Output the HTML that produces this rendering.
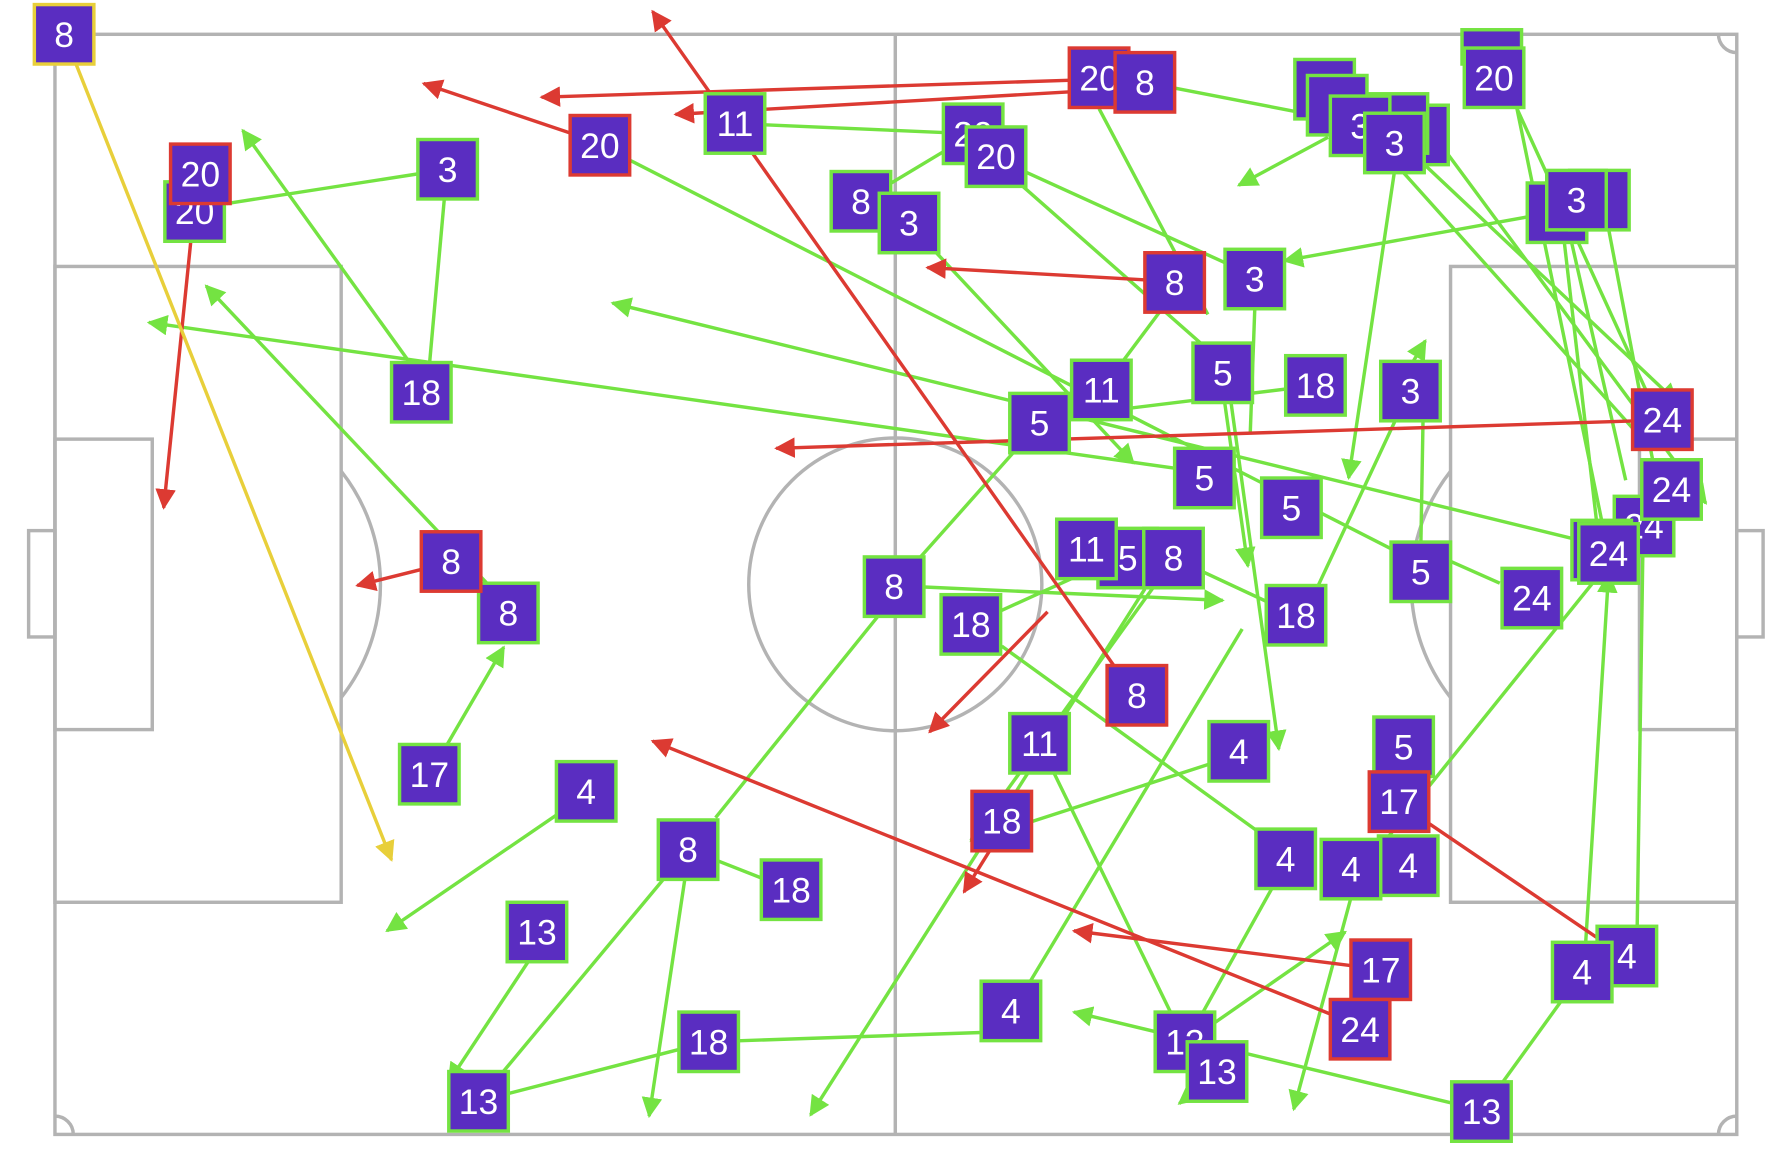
<!DOCTYPE html>
<html><head><meta charset="utf-8"><style>
html,body{margin:0;padding:0;background:#fff;}
svg{display:block;}
.p{fill:none;stroke:#b3b3b3;stroke-width:3}
.g{stroke:#74e342;stroke-width:3;fill:none}
.r{stroke:#dc3a32;stroke-width:3;fill:none}
.y{stroke:#e8cf3a;stroke-width:3;fill:none}
.n rect{fill:#5a2dc1;stroke-width:3}
.n text{fill:#fff;stroke:none;font-family:"Liberation Sans",sans-serif;font-size:31px;text-anchor:middle}
</style></head><body>
<svg width="1786" height="1155" viewBox="0 0 1560 1010" preserveAspectRatio="none" xmlns="http://www.w3.org/2000/svg">
<defs>
<marker id="ag" viewBox="0 0 10 10" refX="9" refY="5" markerWidth="6" markerHeight="6" orient="auto" markerUnits="strokeWidth"><path d="M0,0L10,5L0,10z" fill="#74e342"/></marker>
<marker id="ar" viewBox="0 0 10 10" refX="9" refY="5" markerWidth="6" markerHeight="6" orient="auto" markerUnits="strokeWidth"><path d="M0,0L10,5L0,10z" fill="#dc3a32"/></marker>
<marker id="ay" viewBox="0 0 10 10" refX="9" refY="5" markerWidth="6" markerHeight="6" orient="auto" markerUnits="strokeWidth"><path d="M0,0L10,5L0,10z" fill="#e8cf3a"/></marker>
</defs>
<rect class="p" x="48" y="30" width="1469" height="962"/>
<line class="p" x1="782" y1="30" x2="782" y2="992"/>
<circle class="p" cx="782" cy="511" r="128"/>
<rect class="p" x="48" y="233" width="250" height="556"/>
<rect class="p" x="48" y="384" width="85" height="254"/>
<rect class="p" x="25" y="464" width="23" height="93"/>
<rect class="p" x="1267" y="233" width="250" height="556"/>
<rect class="p" x="1432" y="384" width="85" height="254"/>
<rect class="p" x="1517" y="464" width="23" height="93"/>
<path class="p" d="M298,412 A160,160 0 0 1 298,610"/>
<path class="p" d="M1267,412 A160,160 0 0 0 1267,610"/>
<path class="p" d="M48,976 A16,16 0 0 1 64,992"/>
<path class="p" d="M1501,30 A16,16 0 0 0 1517,46"/>
<path class="p" d="M1501,992 A16,16 0 0 1 1517,976"/>
<g class="g">
<line x1="391" y1="148" x2="198" y2="178"/>
<line x1="375" y1="320" x2="388" y2="175"/>
<line x1="360" y1="320" x2="212" y2="114" marker-end="url(#ag)"/>
<line x1="430" y1="515" x2="180" y2="250" marker-end="url(#ag)"/>
<line x1="390" y1="652" x2="440" y2="566" marker-end="url(#ag)"/>
<line x1="490" y1="710" x2="338" y2="814" marker-end="url(#ag)"/>
<line x1="462" y1="840" x2="392" y2="946" marker-end="url(#ag)"/>
<line x1="601" y1="743" x2="418" y2="963"/>
<line x1="598" y1="770" x2="567" y2="976" marker-end="url(#ag)"/>
<line x1="625" y1="715" x2="770" y2="535"/>
<line x1="691" y1="778" x2="620" y2="750"/>
<line x1="418" y1="963" x2="619" y2="911"/>
<line x1="619" y1="911" x2="883" y2="902"/>
<line x1="900" y1="858" x2="1085" y2="550"/>
<line x1="642" y1="108" x2="850" y2="117"/>
<line x1="550" y1="140" x2="1225" y2="485"/>
<line x1="1360" y1="185" x2="1122" y2="228" marker-end="url(#ag)"/>
<line x1="890" y1="160" x2="1060" y2="310"/>
<line x1="895" y1="150" x2="1075" y2="232"/>
<line x1="1000" y1="72" x2="1170" y2="105"/>
<line x1="960" y1="95" x2="1055" y2="275"/>
<line x1="1160" y1="120" x2="1082" y2="162" marker-end="url(#ag)"/>
<line x1="1218" y1="150" x2="1178" y2="418" marker-end="url(#ag)"/>
<line x1="850" y1="117" x2="752" y2="176"/>
<line x1="815" y1="218" x2="990" y2="405" marker-end="url(#ag)"/>
<line x1="1015" y1="270" x2="962" y2="341"/>
<line x1="1149" y1="337" x2="962" y2="360"/>
<line x1="1075" y1="350" x2="1117" y2="655" marker-end="url(#ag)"/>
<line x1="1068" y1="340" x2="1090" y2="495" marker-end="url(#ag)"/>
<line x1="1096" y1="270" x2="1092" y2="380"/>
<line x1="1232" y1="320" x2="1245" y2="298" marker-end="url(#ag)"/>
<line x1="1243" y1="365" x2="1241" y2="480"/>
<line x1="1220" y1="365" x2="1150" y2="515"/>
<line x1="908" y1="370" x2="781" y2="513"/>
<line x1="1030" y1="410" x2="130" y2="282" marker-end="url(#ag)"/>
<line x1="1390" y1="475" x2="535" y2="265" marker-end="url(#ag)"/>
<line x1="949" y1="500" x2="848" y2="546"/>
<line x1="1010" y1="510" x2="848" y2="735" marker-end="url(#ag)"/>
<line x1="800" y1="513" x2="1068" y2="525" marker-end="url(#ag)"/>
<line x1="875" y1="565" x2="1100" y2="728"/>
<line x1="1060" y1="667" x2="850" y2="735" marker-end="url(#ag)"/>
<line x1="908" y1="650" x2="1035" y2="911"/>
<line x1="1060" y1="895" x2="1175" y2="815" marker-end="url(#ag)"/>
<line x1="1048" y1="890" x2="1112" y2="775"/>
<line x1="1055" y1="945" x2="1030" y2="965" marker-end="url(#ag)"/>
<line x1="1180" y1="785" x2="1130" y2="970" marker-end="url(#ag)"/>
<line x1="1210" y1="735" x2="1395" y2="505"/>
<line x1="1382" y1="850" x2="1294" y2="972"/>
<line x1="1270" y1="965" x2="938" y2="885" marker-end="url(#ag)"/>
<line x1="1430" y1="812" x2="1435" y2="480"/>
<line x1="1385" y1="825" x2="1405" y2="502" marker-end="url(#ag)"/>
<line x1="1395" y1="460" x2="1365" y2="200"/>
<line x1="1400" y1="460" x2="1325" y2="95"/>
<line x1="1420" y1="420" x2="1370" y2="200"/>
<line x1="1240" y1="140" x2="1465" y2="352" marker-end="url(#ag)"/>
<line x1="1250" y1="115" x2="1490" y2="440" marker-end="url(#ag)"/>
<line x1="1225" y1="150" x2="1440" y2="390"/>
<line x1="1325" y1="95" x2="1460" y2="390"/>
<line x1="1405" y1="200" x2="1445" y2="410"/>
<line x1="1310" y1="510" x2="1265" y2="490"/>
<line x1="1132" y1="538" x2="1025" y2="488"/>
<line x1="1000" y1="515" x2="708" y2="975" marker-end="url(#ag)"/>
</g>
<g class="r">
<line x1="170" y1="178" x2="143" y2="444" marker-end="url(#ar)"/>
<line x1="500" y1="117" x2="370" y2="73" marker-end="url(#ar)"/>
<line x1="940" y1="70" x2="473" y2="85" marker-end="url(#ar)"/>
<line x1="975" y1="78" x2="590" y2="100" marker-end="url(#ar)"/>
<line x1="975" y1="585" x2="570" y2="10" marker-end="url(#ar)"/>
<line x1="1005" y1="245" x2="810" y2="234" marker-end="url(#ar)"/>
<line x1="1430" y1="368" x2="678" y2="392" marker-end="url(#ar)"/>
<line x1="372" y1="497" x2="312" y2="512" marker-end="url(#ar)"/>
<line x1="915" y1="535" x2="812" y2="640" marker-end="url(#ar)"/>
<line x1="1170" y1="890" x2="570" y2="648" marker-end="url(#ar)"/>
<line x1="1185" y1="845" x2="938" y2="814" marker-end="url(#ar)"/>
<line x1="1245" y1="718" x2="1395" y2="820"/>
<line x1="870" y1="735" x2="842" y2="780" marker-end="url(#ar)"/>
</g>
<line class="y" x1="66" y1="55" x2="342" y2="752" marker-end="url(#ay)"/>
<g class="n">
<g stroke="#74e342">
<rect x="144" y="159" width="52" height="52"/><text x="170" y="196">20</text>
<rect x="365" y="122" width="52" height="52"/><text x="391" y="159">3</text>
<rect x="342" y="317" width="52" height="52"/><text x="368" y="354">18</text>
<rect x="418" y="510" width="52" height="52"/><text x="444" y="547">8</text>
<rect x="349" y="651" width="52" height="52"/><text x="375" y="688">17</text>
<rect x="486" y="666" width="52" height="52"/><text x="512" y="703">4</text>
<rect x="575" y="717" width="52" height="52"/><text x="601" y="754">8</text>
<rect x="665" y="752" width="52" height="52"/><text x="691" y="789">18</text>
<rect x="443" y="789" width="52" height="52"/><text x="469" y="826">13</text>
<rect x="392" y="937" width="52" height="52"/><text x="418" y="974">13</text>
<rect x="593" y="885" width="52" height="52"/><text x="619" y="922">18</text>
<rect x="857" y="858" width="52" height="52"/><text x="883" y="895">4</text>
<rect x="616" y="82" width="52" height="52"/><text x="642" y="119">11</text>
<rect x="726" y="150" width="52" height="52"/><text x="752" y="187">8</text>
<rect x="768" y="169" width="52" height="52"/><text x="794" y="206">3</text>
<rect x="824" y="91" width="52" height="52"/><text x="850" y="128">20</text>
<rect x="844" y="111" width="52" height="52"/><text x="870" y="148">20</text>
<rect x="1070" y="218" width="52" height="52"/><text x="1096" y="255">3</text>
<rect x="936" y="315" width="52" height="52"/><text x="962" y="352">11</text>
<rect x="882" y="344" width="52" height="52"/><text x="908" y="381">5</text>
<rect x="1042" y="300" width="52" height="52"/><text x="1068" y="337">5</text>
<rect x="1123" y="311" width="52" height="52"/><text x="1149" y="348">18</text>
<rect x="1206" y="316" width="52" height="52"/><text x="1232" y="353">3</text>
<rect x="1026" y="392" width="52" height="52"/><text x="1052" y="429">5</text>
<rect x="1102" y="418" width="52" height="52"/><text x="1128" y="455">5</text>
<rect x="755" y="487" width="52" height="52"/><text x="781" y="524">8</text>
<rect x="822" y="520" width="52" height="52"/><text x="848" y="557">18</text>
<rect x="959" y="462" width="52" height="52"/><text x="985" y="499">5</text>
<rect x="999" y="462" width="52" height="52"/><text x="1025" y="499">8</text>
<rect x="923" y="454" width="52" height="52"/><text x="949" y="491">11</text>
<rect x="1106" y="512" width="52" height="52"/><text x="1132" y="549">18</text>
<rect x="1215" y="474" width="52" height="52"/><text x="1241" y="511">5</text>
<rect x="1312" y="497" width="52" height="52"/><text x="1338" y="534">24</text>
<rect x="882" y="624" width="52" height="52"/><text x="908" y="661">11</text>
<rect x="1056" y="631" width="52" height="52"/><text x="1082" y="668">4</text>
<rect x="1200" y="627" width="52" height="52"/><text x="1226" y="664">5</text>
<rect x="1097" y="725" width="52" height="52"/><text x="1123" y="762">4</text>
<rect x="1204" y="731" width="52" height="52"/><text x="1230" y="768">4</text>
<rect x="1154" y="734" width="52" height="52"/><text x="1180" y="771">4</text>
<rect x="1009" y="885" width="52" height="52"/><text x="1035" y="922">13</text>
<rect x="1037" y="911" width="52" height="52"/><text x="1063" y="948">13</text>
<rect x="1268" y="946" width="52" height="52"/><text x="1294" y="983">13</text>
<rect x="1395" y="810" width="52" height="52"/><text x="1421" y="847">4</text>
<rect x="1356" y="824" width="52" height="52"/><text x="1382" y="861">4</text>
<rect x="1410" y="434" width="52" height="52"/><text x="1436" y="471">24</text>
<rect x="1373" y="455" width="52" height="52"/>
<rect x="1379" y="458" width="52" height="52"/><text x="1405" y="495">24</text>
<rect x="1434" y="402" width="52" height="52"/><text x="1460" y="439">24</text>
<rect x="1131" y="52" width="52" height="52"/><text x="1157" y="89">3</text>
<rect x="1142" y="66" width="52" height="52"/>
<rect x="1213" y="92" width="52" height="52"/>
<rect x="1195" y="82" width="52" height="52"/>
<rect x="1162" y="84" width="52" height="52"/><text x="1188" y="121">3</text>
<rect x="1192" y="99" width="52" height="52"/><text x="1218" y="136">3</text>
<rect x="1277" y="26" width="52" height="30"/>
<rect x="1279" y="42" width="52" height="52"/><text x="1305" y="79">20</text>
<rect x="1334" y="160" width="52" height="52"/>
<rect x="1371" y="149" width="52" height="52"/>
<rect x="1351" y="149" width="52" height="52"/><text x="1377" y="186">3</text>
</g>
<g stroke="#dc3a32">
<rect x="149" y="126" width="52" height="52"/><text x="175" y="163">20</text>
<rect x="498" y="101" width="52" height="52"/><text x="524" y="138">20</text>
<rect x="934" y="42" width="52" height="52"/><text x="960" y="79">20</text>
<rect x="974" y="46" width="52" height="52"/><text x="1000" y="83">8</text>
<rect x="1000" y="221" width="52" height="52"/><text x="1026" y="258">8</text>
<rect x="368" y="465" width="52" height="52"/><text x="394" y="502">8</text>
<rect x="967" y="582" width="52" height="52"/><text x="993" y="619">8</text>
<rect x="849" y="692" width="52" height="52"/><text x="875" y="729">18</text>
<rect x="1196" y="675" width="52" height="52"/><text x="1222" y="712">17</text>
<rect x="1180" y="822" width="52" height="52"/><text x="1206" y="859">17</text>
<rect x="1162" y="874" width="52" height="52"/><text x="1188" y="911">24</text>
<rect x="1426" y="341" width="52" height="52"/><text x="1452" y="378">24</text>
</g>
<rect x="30" y="4" width="52" height="52" stroke="#e8cf3a"/><text x="56" y="41">8</text>
</g>
</svg>
</body></html>
